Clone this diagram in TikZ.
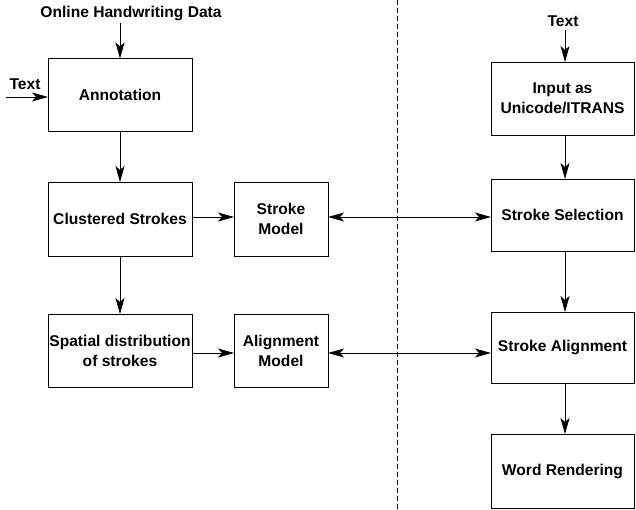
\documentclass[tikz,border=0pt]{standalone}
\usepackage{fontspec}
\setmainfont{Liberation Sans}
\usetikzlibrary{arrows.meta}
\begin{document}
\begin{tikzpicture}[x=1pt,y=-1pt,
  box/.style={draw, line width=0.8pt, inner sep=0pt, outer sep=0pt, align=center,
    font=\fontsize{15.6}{20}\selectfont\bfseries},
  lbl/.style={inner sep=0pt, font=\fontsize{15.6}{20}\selectfont\bfseries},
  tip/.style={Stealth[length=16pt,width=9pt,inset=4pt]},
  arr/.style={line width=0.8pt, -{Stealth[length=16pt,width=9pt,inset=4pt]}},
  darr/.style={line width=0.8pt, {Stealth[length=16pt,width=9pt,inset=4pt]}-{Stealth[length=16pt,width=9pt,inset=4pt]}}]
\useasboundingbox (0,0) rectangle (636,510);
% left column
\node[box, minimum width=144pt, minimum height=73pt] (ann) at (120,95) {Annotation};
\node[box, minimum width=144pt, minimum height=74pt] (clu) at (120,219) {Clustered Strokes};
\node[box, minimum width=144pt, minimum height=73pt] (spa) at (120,350.5) {Spatial distribution\\of strokes};
% middle
\node[box, minimum width=94pt, minimum height=74pt] (smod) at (281,219) {Stroke\\Model};
\node[box, minimum width=94pt, minimum height=73pt] (amod) at (281,350.5) {Alignment\\Model};
% right column
\node[box, minimum width=143pt, minimum height=73pt] (inp) at (562.5,98.5) {Input as\\Unicode/ITRANS};
\node[box, minimum width=143pt, minimum height=72pt] (sel) at (562.5,215) {Stroke Selection};
\node[box, minimum width=143pt, minimum height=71pt] (sal) at (562.5,347.5) {Stroke Alignment};
\node[box, minimum width=143pt, minimum height=74pt] (wr) at (562.5,471) {Word Rendering};
% labels
\node[lbl] (ohd) at (131,14) {Online Handwriting Data};
\node[lbl] (ltext) at (25,84) {Text};
\node[lbl] (rtext) at (563,21) {Text};
\coordinate (ohdend) at (120,23);
\coordinate (ltextend) at (6,97);
\coordinate (rtextend) at (565,30);
% dashed separator
\coordinate (dtop) at (397.5,0);
\coordinate (dbot) at (397.5,510);
\draw[line width=0.7pt, dash pattern=on 5pt off 3pt] (dtop) -- (dbot);
% arrows
\draw[arr] (ohdend) -- (ann.north -| ohdend);
\draw[arr] (ltextend) -- (ann.west |- ltextend);
\draw[arr] (ann.south) -- (clu.north);
\draw[arr] (clu.south) -- (spa.north);
\draw[arr] (clu.east |- 0,217) -- (smod.west |- 0,217);
\draw[arr] (spa.east |- 0,353) -- (amod.west |- 0,353);
\draw[darr] (smod.east |- 0,217) -- (sel.west |- 0,217);
\draw[darr] (amod.east |- 0,353) -- (sal.west |- 0,353);
\draw[arr] (rtextend) -- (inp.north -| rtextend);
\draw[arr] (inp.south -| rtextend) -- (sel.north -| rtextend);
\draw[arr] (sel.south -| rtextend) -- (sal.north -| rtextend);
\draw[arr] (sal.south -| rtextend) -- (wr.north -| rtextend);
\end{tikzpicture}
\end{document}
